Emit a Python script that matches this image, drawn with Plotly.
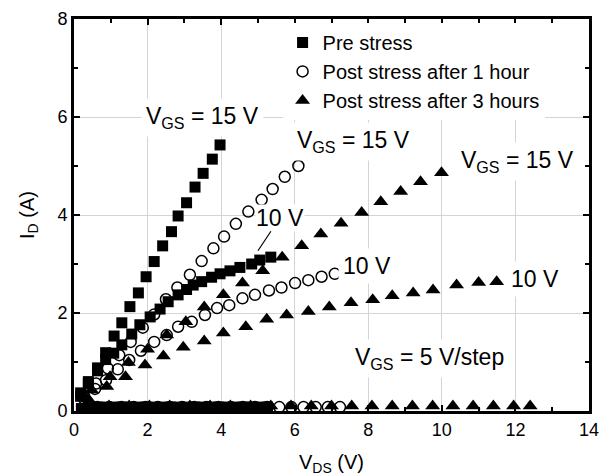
import plotly.graph_objects as go

# ---- data ----
pre15_x = [0.18, 0.39, 0.64, 0.86, 1.09, 1.30, 1.52, 1.75, 1.96, 2.18, 2.41, 2.65, 2.83, 3.06, 3.29, 3.51, 3.76, 3.97]
pre15_y = [0.37, 0.60, 0.88, 1.19, 1.53, 1.80, 2.13, 2.41, 2.74, 3.05, 3.37, 3.66, 3.98, 4.25, 4.57, 4.85, 5.14, 5.43]
pre10_x = [0.18, 0.39, 0.64, 0.86, 1.08, 1.30, 1.57, 1.79, 2.07, 2.34, 2.56, 2.83, 3.06, 3.24, 3.47, 3.74, 3.97, 4.24, 4.51, 4.83, 5.05, 5.35]
pre10_y = [0.30, 0.55, 0.82, 1.05, 1.18, 1.35, 1.57, 1.76, 1.92, 2.08, 2.23, 2.37, 2.48, 2.57, 2.64, 2.73, 2.80, 2.86, 2.93, 3.00, 3.08, 3.14]
pre5_x = [0.20, 0.42, 0.64, 0.86, 1.08, 1.30, 1.52, 1.74, 1.96, 2.18, 2.40, 2.62, 2.84, 3.06, 3.28, 3.50, 3.72, 3.94, 4.16, 4.38, 4.60, 4.82, 5.04, 5.26]
pre5_y = [0.05, 0.07, 0.08, 0.08, 0.08, 0.08, 0.08, 0.08, 0.08, 0.08, 0.08, 0.08, 0.08, 0.08, 0.08, 0.08, 0.08, 0.08, 0.08, 0.08, 0.08, 0.08, 0.08, 0.08]

h1_15_x = [0.27, 0.60, 0.92, 1.23, 1.54, 1.87, 2.18, 2.50, 2.81, 3.15, 3.47, 3.79, 4.08, 4.40, 4.74, 5.10, 5.40, 5.73, 6.10]
h1_15_y = [0.31, 0.56, 0.87, 1.14, 1.41, 1.70, 1.97, 2.28, 2.52, 2.78, 3.06, 3.32, 3.56, 3.82, 4.07, 4.31, 4.53, 4.78, 5.00]
h1_10_x = [0.27, 0.57, 0.87, 1.19, 1.50, 1.82, 2.18, 2.52, 2.83, 3.20, 3.56, 3.89, 4.22, 4.58, 4.92, 5.30, 5.64, 6.01, 6.37, 6.73, 7.09]
h1_10_y = [0.25, 0.45, 0.63, 0.85, 1.04, 1.23, 1.41, 1.55, 1.72, 1.82, 1.96, 2.10, 2.16, 2.30, 2.37, 2.46, 2.52, 2.61, 2.67, 2.74, 2.80]
h1_5_x = [0.30, 0.63, 0.96, 1.29, 1.62, 1.95, 2.28, 2.61, 2.94, 3.27, 3.60, 3.93, 4.26, 4.59, 4.92, 5.25, 5.58, 5.91, 6.24, 6.57, 6.90, 7.23]
h1_5_y = [0.06, 0.08, 0.08, 0.08, 0.08, 0.08, 0.08, 0.08, 0.08, 0.08, 0.08, 0.08, 0.08, 0.08, 0.08, 0.08, 0.08, 0.08, 0.08, 0.08, 0.08, 0.08]

h3_15_x = [0.48, 0.98, 1.48, 2.00, 2.52, 3.04, 3.54, 4.06, 4.58, 5.13, 5.66, 6.19, 6.71, 7.26, 7.82, 8.34, 8.88, 9.42, 9.99]
h3_15_y = [0.43, 0.70, 0.99, 1.26, 1.55, 1.82, 2.12, 2.37, 2.61, 2.86, 3.14, 3.37, 3.61, 3.83, 4.05, 4.27, 4.48, 4.68, 4.86]
h3_10_x = [0.38, 0.89, 1.40, 1.93, 2.43, 2.97, 3.54, 4.06, 4.67, 5.24, 5.78, 6.37, 6.94, 7.53, 8.12, 8.65, 9.22, 9.76, 10.40, 11.00, 11.49]
h3_10_y = [0.25, 0.50, 0.70, 0.94, 1.12, 1.30, 1.43, 1.59, 1.72, 1.87, 1.96, 2.03, 2.12, 2.21, 2.27, 2.35, 2.41, 2.47, 2.57, 2.62, 2.64]
h3_5_x = [0.40, 0.95, 1.50, 2.05, 2.60, 3.15, 3.70, 4.25, 4.80, 5.35, 5.90, 6.45, 7.00, 7.55, 8.10, 8.65, 9.20, 9.75, 10.30, 10.85, 11.40, 11.95, 12.40]
h3_5_y = [0.08, 0.10, 0.10, 0.10, 0.10, 0.10, 0.10, 0.10, 0.10, 0.10, 0.10, 0.10, 0.10, 0.10, 0.10, 0.10, 0.10, 0.10, 0.10, 0.10, 0.10, 0.10, 0.10]

legend_names = ["Pre stress", "Post stress after 1 hour", "Post stress after 3 hours"]
x_ticks = [0, 2, 4, 6, 8, 10, 12, 14]
y_ticks = [0, 2, 4, 6, 8]

FONT = "Liberation Sans, Arial, sans-serif"

sq = dict(symbol="square", size=11, color="black", line=dict(width=0))
ci = dict(symbol="circle-open", size=11, color="black", line=dict(width=1.5))
tr = dict(symbol="triangle-up", size=13, color="black", line=dict(width=0))

fig = go.Figure()
series = [
    (pre15_x, pre15_y, sq, legend_names[0], True),
    (pre10_x, pre10_y, sq, legend_names[0], False),
    (pre5_x, pre5_y, sq, legend_names[0], False),
    (h1_15_x, h1_15_y, ci, legend_names[1], True),
    (h1_10_x, h1_10_y, ci, legend_names[1], False),
    (h1_5_x, h1_5_y, ci, legend_names[1], False),
    (h3_15_x, h3_15_y, tr, legend_names[2], True),
    (h3_10_x, h3_10_y, tr, legend_names[2], False),
    (h3_5_x, h3_5_y, tr, legend_names[2], False),
]
for xs, ys, mk, name, show in series:
    fig.add_trace(go.Scatter(x=xs, y=ys, mode="markers", marker=mk, name=name,
                             showlegend=show, legendgroup=name))

ann_font = dict(family=FONT, size=23, color="black")
annots = [
    dict(x=3.5, y=6.0, text="V<sub>GS</sub> = 15 V"),
    dict(x=7.6, y=5.5, text="V<sub>GS</sub> = 15 V"),
    dict(x=12.05, y=5.1, text="V<sub>GS</sub> = 15 V"),
    dict(x=7.96, y=2.96, text="10 V"),
    dict(x=12.53, y=2.69, text="10 V"),
    dict(x=9.67, y=1.08, text="V<sub>GS</sub> = 5 V/step"),
]
for a in annots:
    fig.add_annotation(x=a["x"], y=a["y"], text=a["text"], showarrow=False,
                       font=ann_font, bgcolor="white", borderpad=4)
fig.add_annotation(x=5.0, y=3.27, text="10 V", showarrow=True, arrowhead=0,
                   arrowwidth=1.2, arrowcolor="black", ax=22, ay=-33,
                   font=ann_font, bgcolor="white", borderpad=0, standoff=0)

axis_common = dict(
    showline=True, linewidth=3, linecolor="black", mirror="ticks",
    ticks="inside", ticklen=6, tickwidth=2, tickcolor="black",
    showgrid=True, gridcolor="#d4d4d4", gridwidth=1, zeroline=False,
    tickfont=dict(family=FONT, size=18, color="black"),
    minor=dict(ticks="inside", ticklen=4, tickwidth=2, tickcolor="black", showgrid=False),
    automargin=False, ticklabeloverflow="allow",
)
fig.update_xaxes(range=[0, 14], tickvals=x_ticks, minor_dtick=1,
                 title=dict(text="V<sub>DS</sub> (V)", font=dict(family=FONT, size=20, color="black"), standoff=18),
                 **axis_common)
fig.update_yaxes(range=[0, 8], tickvals=y_ticks, minor_dtick=1,
                 title=dict(text="I<sub>D</sub> (A)", font=dict(family=FONT, size=20, color="black"), standoff=18),
                 **axis_common)

fig.update_layout(
    width=599, height=476,
    margin=dict(l=74, r=10, t=19, b=65, autoexpand=False),
    plot_bgcolor="white", paper_bgcolor="white",
    font=dict(family=FONT, color="black"),
    legend=dict(x=0.405, y=0.99, xanchor="left", yanchor="top",
                bgcolor="white", font=dict(family=FONT, size=20, color="black"),
                tracegroupgap=0, itemsizing="trace"),
)

fig.write_html("out.html")
